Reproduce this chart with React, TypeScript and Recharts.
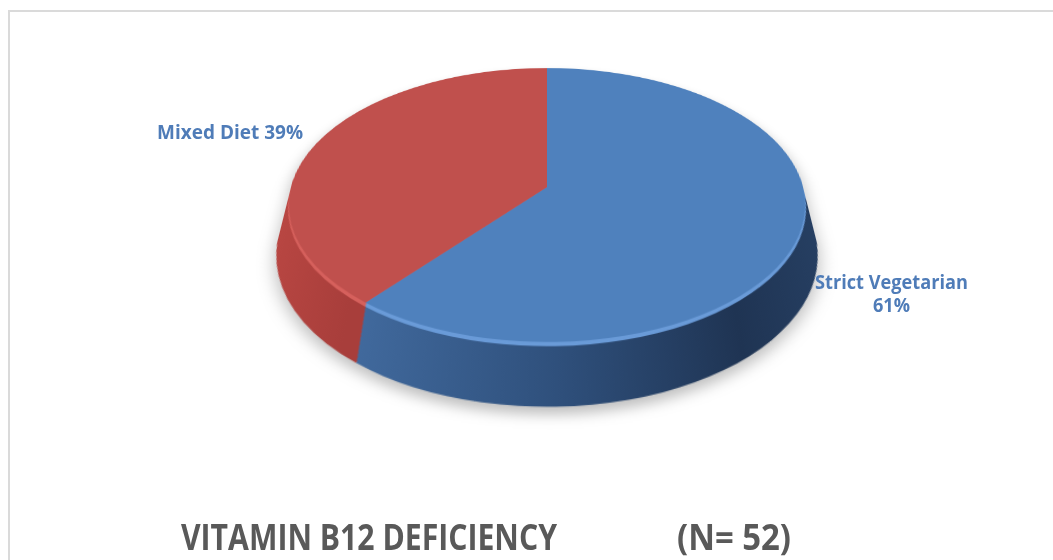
import React from 'react';
import { PieChart, Pie, Cell } from 'recharts';

// data (N = 52)
const categories = ['Strict Vegetarian', 'Mixed Diet'];
const percentages = [61, 39];
const titleText = 'VITAMIN B12 DEFICIENCY';
const sampleText = '(N= 52)';

const topColors = ['#4f81bd', '#c0504d'];
const rimColors = ['#6a9bd8', '#d6615d'];
const sideFills = ['url(#blueSide)', 'url(#redSide)'];

const chartData = categories.map((name, i) => ({ name, value: percentages[i] }));

// 3D look: a squashed pie, stacked copies underneath as the wall,
// and a css perspective tilt so the far half shrinks like in the original
const RADIUS = 256;
const CX = 547;
const CY = 270;
const SQUASH = 0.667;
const TILT = 37.95;
const PERSPECTIVE = 800;
const APEX_Y = 187;
const DEPTH = 88;
const STEP = 2;

const layers: number[] = [];
for (let d = DEPTH; d > 0; d -= STEP) layers.push(d);

const App: React.FC = () => {
  const originY = CY * SQUASH;
  return (
    <div
      style={{
        position: 'fixed',
        left: 0,
        top: 0,
        width: 1053,
        height: 560,
        overflow: 'hidden',
        background: '#fff',
        fontFamily: 'Open Sans, sans-serif'
      }}
    >
      <div
        style={{
          position: 'absolute',
          left: 8,
          top: 10,
          width: 1100,
          height: 600,
          border: '2px solid #dadada',
          boxSizing: 'border-box'
        }}
      />

      <div
        style={{
          position: 'absolute',
          left: 0,
          top: APEX_Y - originY,
          width: 1053,
          height: 640 * SQUASH,
          transform: `perspective(${PERSPECTIVE}px) rotateX(${TILT}deg)`,
          transformOrigin: `${CX}px ${originY}px`
        }}
      >
        <div
          style={{
            transform: `scaleY(${SQUASH})`,
            transformOrigin: '0 0',
            filter: 'drop-shadow(0px 10px 8px rgba(0,0,0,0.25))'
          }}
        >
          <PieChart width={1053} height={640} margin={{ top: 0, right: 0, bottom: 0, left: 0 }}>
            <defs>
              <linearGradient id="blueSide" gradientUnits="userSpaceOnUse" x1={350} y1={0} x2={806} y2={0}>
                <stop offset="0%" stopColor="#446ea3" />
                <stop offset="45%" stopColor="#2f507c" />
                <stop offset="80%" stopColor="#1f3453" />
                <stop offset="100%" stopColor="#263f62" />
              </linearGradient>
              <linearGradient id="redSide" gradientUnits="userSpaceOnUse" x1={290} y1={0} x2={370} y2={0}>
                <stop offset="0%" stopColor="#b84642" />
                <stop offset="100%" stopColor="#a83e3b" />
              </linearGradient>
            </defs>
            {layers.map(d => (
              <Pie
                key={`side-${d}`}
                data={chartData}
                dataKey="value"
                cx={CX}
                cy={CY + d}
                outerRadius={RADIUS}
                startAngle={90}
                endAngle={-270}
                stroke="none"
                isAnimationActive={false}
              >
                {chartData.map((entry, index) => (
                  <Cell key={`side-${d}-${index}`} fill={d <= 6 ? rimColors[index] : sideFills[index]} />
                ))}
              </Pie>
            ))}
            <Pie
              data={chartData}
              dataKey="value"
              cx={CX}
              cy={CY}
              outerRadius={RADIUS}
              startAngle={90}
              endAngle={-270}
              stroke="none"
              isAnimationActive={false}
            >
              {chartData.map((entry, index) => (
                <Cell key={`top-${index}`} fill={topColors[index]} />
              ))}
            </Pie>
          </PieChart>
        </div>
      </div>

      <svg width={1053} height={560} style={{ position: 'absolute', left: 0, top: 0 }}>
        <g fontFamily="Open Sans, sans-serif" fontWeight={700} fill="#4f7cb8">
          <text x={157} y={139} fontSize={19} textLength={146} lengthAdjust="spacingAndGlyphs">
            {`${categories[1]} ${percentages[1]}%`}
          </text>
          <text x={815} y={289} fontSize={19} textLength={153} lengthAdjust="spacingAndGlyphs">
            {categories[0]}
          </text>
          <text x={873} y={312} fontSize={19} textLength={37} lengthAdjust="spacingAndGlyphs">
            {`${percentages[0]}%`}
          </text>
        </g>
        <g fontFamily="Open Sans, sans-serif" fontWeight={700} fill="#595959" fontSize={36}>
          <text x={181} y={550} textLength={376} lengthAdjust="spacingAndGlyphs">
            {titleText}
          </text>
          <text x={677} y={550} textLength={114} lengthAdjust="spacingAndGlyphs">
            {sampleText}
          </text>
        </g>
      </svg>
    </div>
  );
};

export default App;
